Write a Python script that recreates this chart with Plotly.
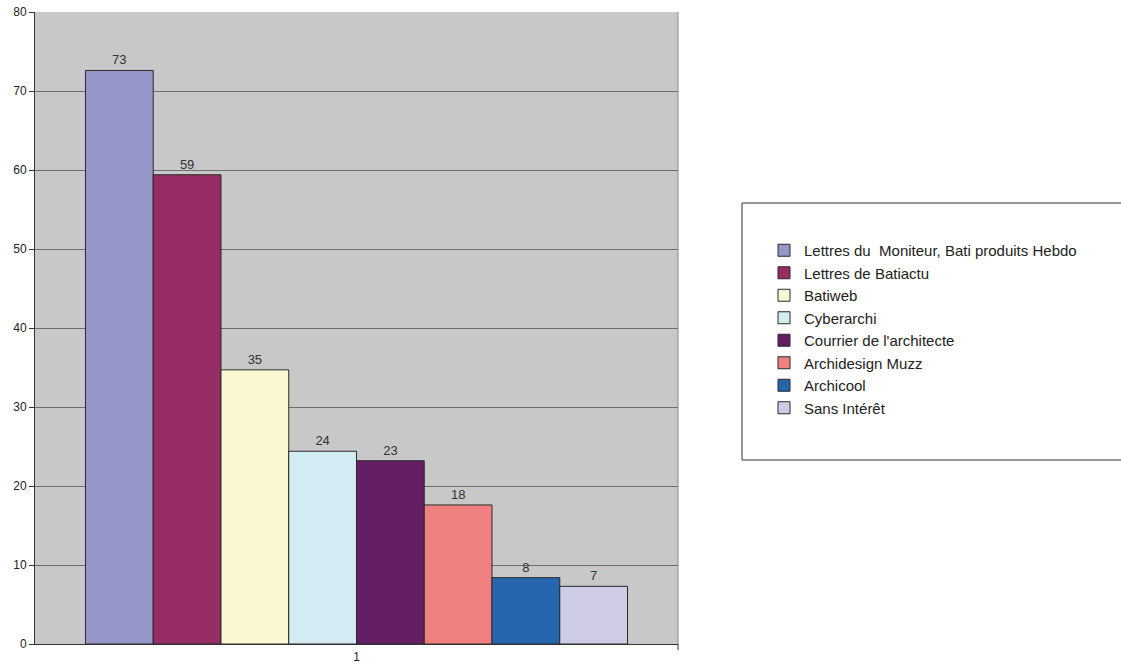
import plotly.graph_objects as go

categories = ["1"]
series_names = [
    "Lettres du  Moniteur, Bati produits Hebdo",
    "Lettres de Batiactu",
    "Batiweb",
    "Cyberarchi",
    "Courrier de l'architecte",
    "Archidesign Muzz",
    "Archicool",
    "Sans Intérêt",
]
series_values = [72.6, 59.4, 34.7, 24.4, 23.2, 17.6, 8.4, 7.3]
series_colors = ["#9696C8", "#962D64", "#FAF8D0", "#D3ECF3",
                 "#641E64", "#F08080", "#2566AF", "#CDCBE6"]
y_ticks = [0, 10, 20, 30, 40, 50, 60, 70, 80]

W, H = 1121, 665
L, R, T, B = 35, 678, 12, 644

fig = go.Figure()
for i, (name, val, col) in enumerate(zip(series_names, series_values, series_colors)):
    fig.add_trace(go.Bar(
        x=categories, y=[val], name=name,
        marker=dict(color=col, line=dict(color="#2a2a2a", width=1)),
        text=[f"{round(val):d}"], textposition="outside",
        textfont=dict(family="Liberation Sans, Arial", size=13, color="#333333"),
        cliponaxis=False, legendgroup=f"g{i}",
    ))

pw = R - L
ph = B - T
fig.update_layout(
    width=W, height=H, autosize=False,
    margin=dict(l=L, r=W - R, t=T, b=H - B, pad=0, autoexpand=False),
    paper_bgcolor="white", plot_bgcolor="#C8C8C8",
    barmode="group", bargap=0.157, bargroupgap=0,
    font=dict(family="Liberation Sans, Arial", size=12, color="#222222"),
    showlegend=True,
    legend=dict(
        x=(764 - L) / pw, xanchor="left",
        y=1 - (234 - T) / ph, yanchor="top",
        font=dict(family="Liberation Sans, Arial", size=15, color="#222222"),
        bgcolor="rgba(0,0,0,0)", borderwidth=0,
        traceorder="grouped", tracegroupgap=0,
        itemclick=False,
    ),
    xaxis=dict(
        showgrid=False, showline=True, linecolor="#333333", linewidth=1,
        ticks="outside", ticklen=2, tickcolor="rgba(0,0,0,0)",
        tickfont=dict(size=12, color="#222222"), automargin=False,
        mirror=False, fixedrange=True,
    ),
    yaxis=dict(
        range=[0, 80], tickvals=y_ticks, showgrid=True, gridcolor="#6E6E6E", gridwidth=1,
        showline=True, linecolor="#333333", linewidth=1, ticks="outside", ticklen=5,
        tickcolor="#333333", tickfont=dict(size=12, color="#222222"), zeroline=False,
        fixedrange=True, automargin=False,
    ),
    shapes=[
        dict(type="line", xref="paper", yref="paper", x0=1, x1=1, y0=0, y1=1,
             line=dict(color="#8A8A8A", width=1)),
        dict(type="line", xref="paper", yref="paper", x0=1, x1=1, y0=0, y1=-6 / ph,
             line=dict(color="#333333", width=1)),
        dict(type="rect", xref="paper", yref="paper",
             x0=(742 - L) / pw, x1=(1140 - L) / pw,
             y0=1 - (460 - T) / ph, y1=1 - (203 - T) / ph,
             line=dict(color="#333333", width=1), fillcolor="rgba(0,0,0,0)"),
    ],
)

fig.write_html(
    "out.html",
    config={"displayModeBar": False, "responsive": False},
    post_script="document.body.style.margin='0';document.body.style.overflow='hidden';",
)
